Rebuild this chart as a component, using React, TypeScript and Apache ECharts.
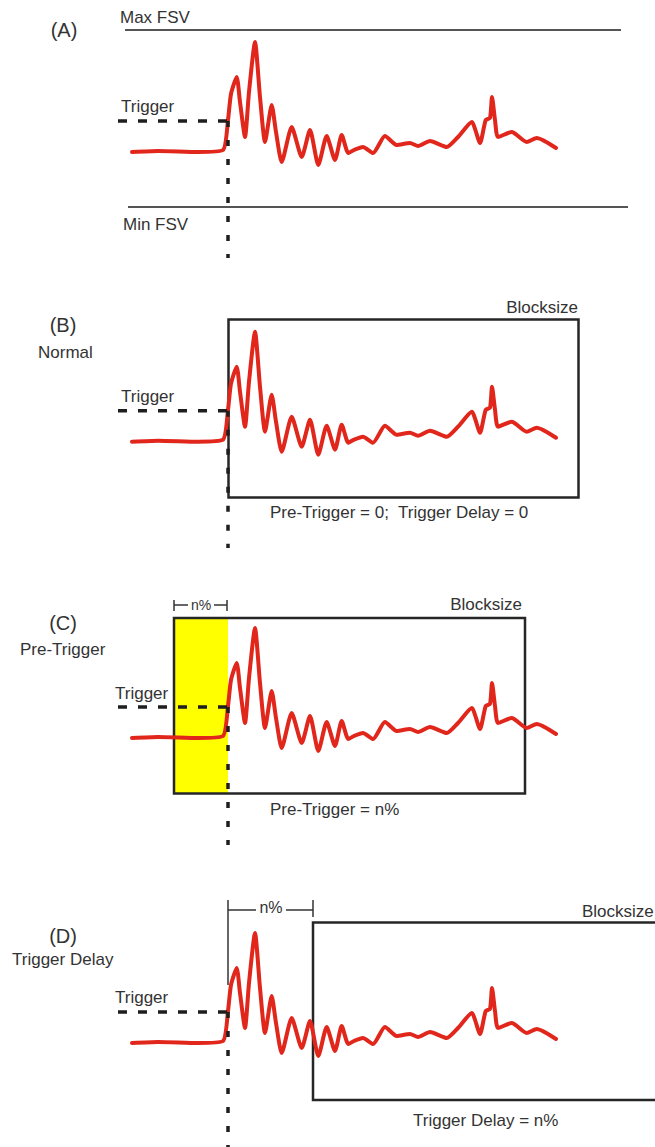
import React, { useEffect, useRef } from "react";
import * as echarts from "echarts";

// Waveform samples: time relative to trigger point, amplitude relative to resting level
const time = [-96, -70, -30, -5, 0, 3, 8.7, 12, 17, 21, 27, 32, 37, 43.7, 48, 53.7, 63.7, 73.7, 82, 90.3, 98.7, 107, 113.7, 120.3, 126, 135, 145, 157, 168.7, 182, 190, 202, 218.7, 230, 243.7, 252, 257.7, 262, 264, 267, 270, 283.7, 298.7, 308.7, 328];
const amplitude = [0, 1, 0, 2, 32, 58, 75, 50, 15, 60, 110, 55, 10, 47, 20, -10, 25, -5, 22, -13, 16, -8, 17, -1, 2, 5, -1, 16, 7, 9, 6, 11, 5, 15, 30, 9, 32, 34, 55, 32, 15, 20, 10, 14, 4];
const panelLabels = ["(A)", "(B)", "(C)", "(D)"];
const panelModes = ["", "Normal", "Pre-Trigger", "Trigger Delay"];
const triggerLevel = 32;

// layout (pixels)
const BASE = [152, 441.7, 738, 1043];
const TRIG_X = 228;
const RED = "#e1261c";
const TXT = "#333";
const FONT = "'Liberation Sans', Arial, sans-serif";

function txt(text: string, x: number, y: number, size = 17, align = "left") {
  return {
    type: "text",
    x,
    y,
    z: 20,
    style: { text, fill: TXT, font: `${size}px ${FONT}`, align, verticalAlign: "middle" },
  };
}
function ln(x1: number, y1: number, x2: number, y2: number, stroke: string, lineWidth: number, lineDash?: number[], z = 5) {
  return {
    type: "line",
    z,
    shape: { x1, y1, x2, y2 },
    style: { stroke, lineWidth, lineDash: lineDash || null },
  };
}
function box(x: number, y: number, w: number, h: number, fill = "none", stroke = "#262626", z = 1) {
  return {
    type: "rect",
    z,
    shape: { x, y, width: w, height: h },
    style: { fill, stroke, lineWidth: stroke === "none" ? 0 : 2.5 },
  };
}

export default function App() {
  const ref = useRef<HTMLDivElement>(null);
  useEffect(() => {
    if (!ref.current) return;
    const chart = echarts.init(ref.current, null, { renderer: "svg" });
    const points = time.map((t, i) => [t, amplitude[i]]);

    const grids = BASE.map((b) => ({ left: 118, width: 450, top: b - 120, height: 150 }));
    const xAxes = BASE.map((_, i) => ({ type: "value", gridIndex: i, min: -110, max: 340, show: false }));
    const yAxes = BASE.map((_, i) => ({ type: "value", gridIndex: i, min: -30, max: 120, show: false }));
    const series = BASE.map((_, i) => ({
      type: "line",
      xAxisIndex: i,
      yAxisIndex: i,
      data: points,
      symbol: "none",
      smooth: 0.2,
      lineStyle: { color: RED, width: 4, cap: "round", join: "round" },
      z: 2,
    }));

    const trigY = BASE.map((b) => b - triggerLevel + 1);
    const dash = [9, 11];
    const dots = [6, 13];
    const graphic: any[] = [];
    const dotEnd = [258, 548, 845, 1147];
    trigY.forEach((ty, i) => {
      graphic.push(ln(118, ty, TRIG_X, ty, "#1e1e1e", 3.5, dash, 6));
      graphic.push(ln(TRIG_X, ty, TRIG_X, dotEnd[i], "#1e1e1e", 3.5, dots, 6));
    });
    const trigTextY = [106, 396, 693, 997];
    const trigTextX = [121, 121, 115, 115];
    trigTextY.forEach((y, i) => graphic.push(txt("Trigger", trigTextX[i], y)));

    // Panel A
    graphic.push(txt(panelLabels[0], 64, 30, 20, "center"));
    graphic.push(txt("Max FSV", 120, 17));
    graphic.push(ln(125, 30, 621, 30, "#555", 2, undefined, 1));
    graphic.push(ln(128, 207, 628, 207, "#555", 2, undefined, 1));
    graphic.push(txt("Min FSV", 123, 224));

    // Panel B
    graphic.push(txt(panelLabels[1], 63, 324.5, 20, "center"));
    graphic.push(txt(panelModes[1], 38, 352));
    graphic.push(txt("Blocksize", 578, 307, 17, "right"));
    graphic.push(box(228.5, 319.5, 350, 178));
    graphic.push(txt("Pre-Trigger = 0;  Trigger Delay = 0", 270, 512));

    // Panel C
    graphic.push(txt(panelLabels[2], 63, 623, 20, "center"));
    graphic.push(txt(panelModes[2], 20, 649));
    graphic.push(box(174, 618, 54, 175.5, "#ffff00", "none", 0));
    graphic.push(box(174, 618, 351, 175.5));
    graphic.push(txt("Blocksize", 522, 604, 17, "right"));
    graphic.push(ln(174, 605, 188, 605, "#333", 1.5));
    graphic.push(ln(214, 605, 227, 605, "#333", 1.5));
    graphic.push(ln(174, 600, 174, 611, "#333", 1.5));
    graphic.push(ln(227, 600, 227, 611, "#333", 1.5));
    graphic.push(txt("n%", 201, 605, 14, "center"));
    graphic.push(txt("Pre-Trigger = n%", 270, 809));

    // Panel D
    graphic.push(txt(panelLabels[3], 63, 936, 20, "center"));
    graphic.push(txt(panelModes[3], 12, 959));
    graphic.push(box(313, 922.5, 400, 177.5));
    graphic.push(txt("Blocksize", 582, 911));
    graphic.push(ln(228, 910, 256, 910, "#333", 1.5));
    graphic.push(ln(286, 910, 313, 910, "#333", 1.5));
    graphic.push(ln(228, 900, 228, 985, "#333", 1.5));
    graphic.push(ln(313, 900, 313, 917, "#333", 1.5));
    graphic.push(txt("n%", 271, 907.5, 16, "center"));
    graphic.push(txt("Trigger Delay = n%", 413, 1120));

    chart.setOption({
      animation: false,
      backgroundColor: "#ffffff",
      grid: grids,
      xAxis: xAxes,
      yAxis: yAxes,
      series,
      graphic,
    });
    return () => chart.dispose();
  }, []);
  return <div ref={ref} style={{ position: "fixed", left: 0, top: 0, width: 655, height: 1147 }} />;
}
